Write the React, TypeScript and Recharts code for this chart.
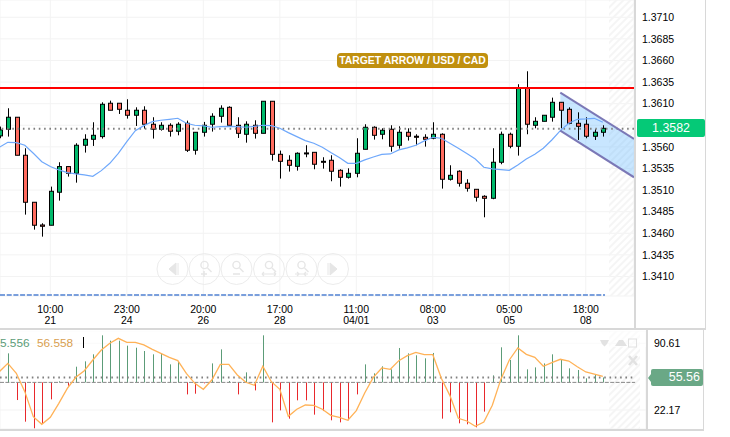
import { Area, Bar, CartesianGrid, ComposedChart, Line, ReferenceArea, ReferenceLine, XAxis, YAxis } from 'recharts';

const opens = [1.35727, 1.35804, 1.35943, 1.35503, 1.34959, 1.34696, 1.34693, 1.35075, 1.35372, 1.35294, 1.35619, 1.35688, 1.35719, 1.36105, 1.36105, 1.36024, 1.35966, 1.36024, 1.35862, 1.35804, 1.3585, 1.35781, 1.35873, 1.35561, 1.35769, 1.35862, 1.35954, 1.36058, 1.3585, 1.35746, 1.3585, 1.35757, 1.36128, 1.35514, 1.35445, 1.35375, 1.3553, 1.35537, 1.35433, 1.35445, 1.35329, 1.35248, 1.35294, 1.35572, 1.35827, 1.35746, 1.35804, 1.35619, 1.35769, 1.35723, 1.35711, 1.357, 1.35746, 1.35225, 1.35318, 1.35179, 1.35109, 1.35028, 1.35005, 1.35422, 1.35746, 1.35607, 1.36278, 1.3585, 1.35896, 1.35943, 1.36116, 1.36035, 1.35873, 1.35862, 1.35723, 1.35769];
const closes = [1.35796, 1.35943, 1.35503, 1.34959, 1.34693, 1.34681, 1.35086, 1.35372, 1.35294, 1.35619, 1.35688, 1.35734, 1.36093, 1.36024, 1.36035, 1.35966, 1.36024, 1.35862, 1.35804, 1.3585, 1.35781, 1.35862, 1.35561, 1.35769, 1.3585, 1.35954, 1.36047, 1.3585, 1.35757, 1.35862, 1.35757, 1.36128, 1.35514, 1.35433, 1.35387, 1.35526, 1.35522, 1.35399, 1.35422, 1.35318, 1.35248, 1.35294, 1.35526, 1.35827, 1.35734, 1.35792, 1.35607, 1.35769, 1.35723, 1.35711, 1.35688, 1.35746, 1.35225, 1.35271, 1.35179, 1.35121, 1.35017, 1.35005, 1.35422, 1.35746, 1.35607, 1.36278, 1.35862, 1.35896, 1.35966, 1.36116, 1.36024, 1.35873, 1.35838, 1.35723, 1.35769, 1.35815];
const highs = [1.35835, 1.36047, 1.35943, 1.35584, 1.34959, 1.34716, 1.3514, 1.35422, 1.35372, 1.35642, 1.35746, 1.35885, 1.36116, 1.36135, 1.36105, 1.36151, 1.36058, 1.3607, 1.35943, 1.35885, 1.35873, 1.35885, 1.35904, 1.35769, 1.35889, 1.35989, 1.36081, 1.3607, 1.35943, 1.35896, 1.35908, 1.36128, 1.36128, 1.35557, 1.35503, 1.35537, 1.35619, 1.35537, 1.3548, 1.35503, 1.35341, 1.35352, 1.357, 1.35862, 1.35838, 1.35815, 1.3585, 1.35838, 1.35815, 1.35746, 1.35746, 1.35885, 1.35757, 1.35387, 1.35329, 1.35225, 1.35109, 1.3504, 1.35584, 1.35777, 1.35765, 1.36325, 1.36475, 1.35943, 1.35966, 1.3617, 1.36116, 1.36058, 1.36, 1.35943, 1.35804, 1.3585];
const lows = [1.357, 1.35719, 1.35503, 1.34816, 1.34642, 1.34561, 1.34693, 1.34978, 1.35256, 1.35186, 1.35534, 1.35611, 1.35696, 1.36024, 1.35981, 1.35927, 1.35842, 1.35811, 1.35696, 1.35788, 1.35719, 1.35734, 1.35541, 1.3551, 1.35719, 1.35777, 1.35881, 1.3585, 1.35703, 1.35649, 1.35696, 1.35757, 1.35441, 1.35233, 1.35314, 1.35325, 1.3548, 1.35341, 1.35348, 1.35202, 1.3514, 1.35233, 1.35248, 1.35572, 1.35684, 1.35688, 1.35545, 1.3558, 1.35673, 1.35619, 1.35603, 1.35688, 1.35117, 1.3521, 1.3514, 1.35082, 1.34967, 1.34785, 1.34994, 1.35399, 1.35584, 1.35499, 1.35746, 1.35815, 1.35896, 1.35892, 1.35815, 1.35862, 1.3568, 1.357, 1.3568, 1.35719];
const average = [1.35595, 1.35653, 1.35649, 1.35619, 1.35526, 1.35429, 1.35372, 1.35333, 1.35302, 1.35287, 1.35275, 1.3526, 1.35325, 1.3541, 1.35526, 1.35661, 1.35788, 1.35846, 1.35892, 1.35908, 1.35919, 1.35931, 1.35873, 1.3585, 1.35842, 1.35827, 1.35835, 1.35838, 1.35835, 1.35827, 1.35838, 1.3585, 1.35846, 1.35815, 1.35765, 1.35719, 1.35673, 1.35642, 1.35595, 1.35534, 1.35476, 1.3541, 1.3541, 1.35449, 1.35483, 1.35514, 1.35518, 1.35565, 1.35588, 1.35619, 1.35669, 1.35711, 1.357, 1.35642, 1.35584, 1.35522, 1.3546, 1.35364, 1.35345, 1.35337, 1.35329, 1.35391, 1.3546, 1.35514, 1.35584, 1.3568, 1.35788, 1.35873, 1.35919, 1.35923, 1.35931, 1.35885];

const oscillator = [50.5, 80.3, 32.4, 10.2, 3.4, 7.8, 33.1, 51.6, 47.1, 66.6, 72.1, 79.3, 98.8, 93.3, 93.3, 88.2, 86.1, 82.7, 79.3, 80.3, 69.0, 71.8, 38.2, 38.9, 49.5, 70.0, 84.4, 51.9, 38.2, 60.8, 42.3, 98.8, 9.5, 21.8, 13.3, 32.1, 32.1, 17.4, 21.1, 11.6, 9.5, 11.6, 38.2, 69.0, 59.8, 67.0, 63.9, 85.8, 80.3, 78.3, 75.2, 80.7, 13.3, 19.8, 8.5, 7.5, 4.4, 20.5, 57.7, 86.5, 73.5, 98.8, 63.9, 65.9, 70.0, 79.3, 74.2, 64.9, 63.2, 54.7, 58.1, 55.56];
const signal = [61.5, 70.0, 59.8, 41.0, 15.3, 7.5, 14.6, 29.0, 44.4, 55.7, 62.5, 73.5, 83.7, 90.6, 95.7, 91.6, 91.6, 88.9, 84.4, 80.3, 76.2, 72.8, 59.8, 49.5, 43.4, 52.9, 69.0, 69.0, 58.1, 50.6, 47.5, 67.0, 51.2, 43.4, 15.7, 22.9, 27.3, 27.0, 22.9, 16.7, 14.6, 11.6, 21.5, 39.9, 55.7, 65.3, 63.9, 72.8, 77.9, 81.3, 78.9, 78.9, 54.7, 37.2, 13.6, 10.9, 5.4, 9.9, 27.0, 53.6, 73.5, 85.8, 79.3, 76.2, 67.0, 70.7, 74.2, 72.4, 66.6, 61.2, 59.1, 56.56];

const timeTicks = [6, 15, 24, 33, 42, 51, 60, 69];
const timeLabels = ['10:00', '23:00', '20:00', '17:00', '11:00', '08:00', '05:00', '18:00'];
const dateLabels = ['21', '24', '26', '28', '04/01', '03', '05', '08'];
const priceTicks = [1.371, 1.3685, 1.366, 1.3635, 1.361, 1.3585, 1.356, 1.3535, 1.351, 1.3485, 1.346, 1.3435, 1.341];
const oscTicks = [22.17, 90.61];

const channelIndex = [66, 74.67];
const channelUpper = [1.36227, 1.35691];
const channelLower = [1.35788, 1.35248];

const resistance = 1.36282;
const lastPrice = 1.3581;
const hiddenPriceTick = 1.3585; // sits under the last price tag, grid line only
const lastOsc = 55.56;
const oscBase = 50.5;

const rows = opens.map((open, i) => ({
  idx: i,
  open,
  close: closes[i],
  high: highs[i],
  low: lows[i],
  average: average[i],
  osc: oscillator[i],
  signal: signal[i],
}));

const channelRows = channelIndex.map((idx, i) => ({ idx, upper: channelUpper[i], lower: channelLower[i], band: [channelLower[i], channelUpper[i]] }));

const font = '"Liberation Sans", Arial, sans-serif';
const gridColor = '#f3f3f3';
const frameColor = '#d8d8d8';

function Candle(props: any) {
  const { x, y, width, height, payload } = props;
  const k = height / (payload.high - payload.low);
  const cx = Math.round(x + width / 2) + 0.5;
  const top = y + (payload.high - Math.max(payload.open, payload.close)) * k;
  const bodyHeight = Math.max(Math.abs(payload.open - payload.close) * k, 1);
  const up = payload.close >= payload.open;
  return (
    <g>
      <line x1={cx} x2={cx} y1={y} y2={y + height} stroke="#000" strokeWidth={1} />
      <rect x={cx - 2} y={top} width={4} height={bodyHeight} fill={up ? '#00b96b' : '#ff6b5e'} stroke="#000" strokeWidth={1} />
    </g>
  );
}

function OscBar(props: any) {
  const { x, y, width, height, payload } = props;
  const cx = Math.round(x + width / 2);
  return <rect x={cx} y={y} width={1} height={height} fill={payload.osc >= oscBase ? '#5c9c78' : '#e8282c'} />;
}

function TimeTick(props: any) {
  const { x, y, payload } = props;
  const i = timeTicks.indexOf(payload.value);
  return (
    <text x={x} textAnchor="middle" fontSize={10.5} fontFamily={font} fill="#000">
      <tspan x={x} y={y + 9}>{timeLabels[i]}</tspan>
      <tspan x={x} y={y + 19.5}>{dateLabels[i]}</tspan>
    </text>
  );
}

function Hatch({ id }: { id: string }) {
  return (
    <defs>
      <pattern id={id} width={5} height={5} patternUnits="userSpaceOnUse" patternTransform="rotate(45)">
        <rect width={2} height={5} fill="#f5f5f5" />
      </pattern>
    </defs>
  );
}

function NavButtons() {
  const stroke = '#ececec';
  const icon = '#e6e6e6';
  const centers = [172.5, 204.5, 236.5, 269, 301.5, 333];
  return (
    <svg width={730} height={437} style={{ position: 'absolute', left: 0, top: 0, pointerEvents: 'none' }}>
      {centers.map((cx) => (
        <circle key={cx} cx={cx} cy={269} r={15.5} fill="none" stroke={stroke} strokeWidth={1} />
      ))}
      <path d="M176 263 L169 269 L176 275 Z M178 263 V275" fill={icon} stroke={icon} />
      <path d="M330 263 L337 269 L330 275 Z M328 263 V275" fill={icon} stroke={icon} />
      {centers.slice(1, 5).map((cx) => (
        <g key={cx} fill="none" stroke={icon} strokeWidth={1.4}>
          <circle cx={cx} cy={265} r={3.6} />
          <path d={`M${cx + 3} ${268} L${cx + 7} ${272}`} />
        </g>
      ))}
      <path d="M201 274 H207 M204 271 V277" stroke={icon} strokeWidth={1.6} />
      <path d="M233 274 H240" stroke={icon} strokeWidth={1.6} />
      <path d="M262 274 H276 M262 274 l2 -2 M262 274 l2 2 M276 274 l-2 -2 M276 274 l-2 2" stroke={icon} strokeWidth={1.2} fill="none" />
      <path d="M295 274 H308 M299 274 l-2 -2 M299 274 l-2 2 M304 274 l2 -2 M304 274 l2 2" stroke={icon} strokeWidth={1.2} fill="none" />
      <path d="M600 340 h9 l-2 4 l-2.5 2.5 l-2.5 -2.5 Z M615 346 l4 -6 l4 0 l4 6 Z" fill="#e2e2e2" />
      <rect x={628.5} y={339} width={8} height={8} fill="none" stroke="#e2e2e2" strokeWidth={1} />
      <path d="M629 356 L637 365 M637 356 L629 365" stroke="#e2e2e2" strokeWidth={2.6} />
    </svg>
  );
}

export default function App() {
  return (
    <div style={{ position: 'absolute', left: 0, top: 0, width: 730, height: 437, overflow: 'hidden', background: '#fff', fontFamily: font }}>
      <div style={{ position: 'absolute', left: 0, top: 0 }}>
        <ComposedChart width={705} height={329} data={rows} margin={{ top: 0, right: 0, bottom: 0, left: 0 }}>
          <Hatch id="hatchTop" />
          <CartesianGrid stroke={gridColor} />
          <XAxis dataKey="idx" type="number" domain={[0.08, 74.67]} allowDataOverflow ticks={timeTicks} tick={<TimeTick />} tickLine={false} axisLine={false} height={33} interval={0} />
          <YAxis orientation="right" type="number" domain={[1.33874, 1.373]} allowDataOverflow ticks={priceTicks} width={71} tickSize={0} tickMargin={8} tickLine={false} axisLine={false} interval={0} tickFormatter={(v: number) => (v === hiddenPriceTick ? '' : v.toFixed(4))} tick={{ fontSize: 10.5, fontFamily: font, fill: '#000' }} />
          <ReferenceArea x1={71.73} x2={74.67} y1={1.33874} y2={1.373} fill="url(#hatchTop)" fillOpacity={1} stroke="none" />
          <ReferenceLine y={lastPrice} stroke="#808080" strokeWidth={2} strokeDasharray="1.6 3.7" />
          <ReferenceLine segment={[{ x: 0.08, y: 1.33886 }, { x: 71.26, y: 1.33886 }]} stroke="#7a9fdc" strokeWidth={2} strokeDasharray="5 1.7" />
          <ReferenceLine y={resistance} stroke="#ff0000" strokeWidth={2} />
          <Bar dataKey={(d: any) => [d.low, d.high]} barSize={5} shape={<Candle />} isAnimationActive={false} />
          <Line dataKey="average" stroke="#6fa8fb" strokeWidth={1.2} dot={false} activeDot={false} isAnimationActive={false} />
          <Area data={channelRows} dataKey="band" stroke="none" fill="#66bbff" fillOpacity={0.36} dot={false} activeDot={false} isAnimationActive={false} />
          <Line data={channelRows} dataKey="upper" stroke="#7b78b6" strokeWidth={2} dot={false} activeDot={false} isAnimationActive={false} />
          <Line data={channelRows} dataKey="lower" stroke="#7b78b6" strokeWidth={2} dot={false} activeDot={false} isAnimationActive={false} />
        </ComposedChart>
      </div>

      <div style={{ position: 'absolute', left: 0, top: 331 }}>
        <ComposedChart width={703} height={98} data={rows} margin={{ top: 0, right: 0, bottom: 0, left: 0 }}>
          <Hatch id="hatchLow" />
          <CartesianGrid stroke={gridColor} />
          <XAxis dataKey="idx" type="number" domain={[0.08, 76.08]} allowDataOverflow ticks={timeTicks} tick={false} tickLine={false} axisLine={false} height={0} interval={0} />
          <YAxis orientation="right" type="number" domain={[2.67, 103.23]} allowDataOverflow ticks={oscTicks} width={57} tickSize={0} tickMargin={8} tickLine={false} axisLine={false} interval={0} tick={{ fontSize: 10.5, fontFamily: font, fill: '#000' }} />
          <ReferenceArea x1={71.73} x2={75.38} y1={2.67} y2={103.23} fill="url(#hatchLow)" fillOpacity={1} stroke="none" />
          <ReferenceLine segment={[{ x: 0.08, y: oscBase }, { x: 74.8, y: oscBase }]} stroke="#888" strokeWidth={1} strokeDasharray="4 1.4" />
          <ReferenceLine segment={[{ x: 0.08, y: lastOsc }, { x: 74.8, y: lastOsc }]} stroke="#808080" strokeWidth={2} strokeDasharray="1.6 3.7" />
          <Bar dataKey={(d: any) => [Math.min(d.osc, oscBase), Math.max(d.osc, oscBase)]} barSize={1} shape={<OscBar />} isAnimationActive={false} />
          <Line dataKey="signal" stroke="#ffb257" strokeWidth={1.3} dot={false} activeDot={false} isAnimationActive={false} />
          <ReferenceArea x1={0.08} x2={76.08} y1={86.8} y2={103.23} fill="#fff" fillOpacity={0.6} stroke="none" />
        </ComposedChart>
      </div>

      <NavButtons />

      <div style={{ position: 'absolute', left: 634, top: 0, width: 2, height: 329, background: frameColor }} />
      <div style={{ position: 'absolute', left: 705, top: 0, width: 1, height: 329, background: frameColor }} />
      <div style={{ position: 'absolute', left: 0, top: 328, width: 706, height: 2, background: frameColor }} />
      <div style={{ position: 'absolute', left: 646, top: 330, width: 2, height: 100, background: frameColor }} />
      <div style={{ position: 'absolute', left: 703, top: 330, width: 1, height: 100, background: frameColor }} />
      <div style={{ position: 'absolute', left: 0, top: 429, width: 704, height: 2, background: frameColor }} />

      <div style={{ position: 'absolute', left: 337, top: 53, width: 151, height: 15, lineHeight: '15px', textAlign: 'center', background: '#c0900f', borderRadius: 4, color: '#fff', fontSize: 10.4, fontWeight: 'bold', whiteSpace: 'nowrap' }}>
        TARGET ARROW / USD / CAD
      </div>

      <div style={{ position: 'absolute', left: 637, top: 119, width: 68, height: 18, lineHeight: '18px', textAlign: 'center', background: '#05c977', borderRadius: 2, color: '#fff', fontSize: 12.4 }}>
        1.3582
      </div>

      <div style={{ position: 'absolute', left: 651, top: 369, width: 49, paddingRight: 3, height: 17, lineHeight: '17px', textAlign: 'right', background: '#6aa886', borderRadius: 2, color: '#fff', fontSize: 12.5 }}>
        55.56
      </div>
      <div style={{ position: 'absolute', left: 648, top: 374, width: 0, height: 0, borderTop: '4px solid transparent', borderBottom: '4px solid transparent', borderRight: '3px solid #6aa886' }} />

      <div style={{ position: 'absolute', left: 0, top: 335, lineHeight: '16px', fontSize: 11.8, color: '#5c9c78', whiteSpace: 'nowrap' }}>5.556</div>
      <div style={{ position: 'absolute', left: 37, top: 335, lineHeight: '16px', fontSize: 11.8, color: '#d9a050', whiteSpace: 'nowrap' }}>56.558</div>
      <div style={{ position: 'absolute', left: 83, top: 337, width: 1, height: 11, background: '#000' }} />
    </div>
  );
}
